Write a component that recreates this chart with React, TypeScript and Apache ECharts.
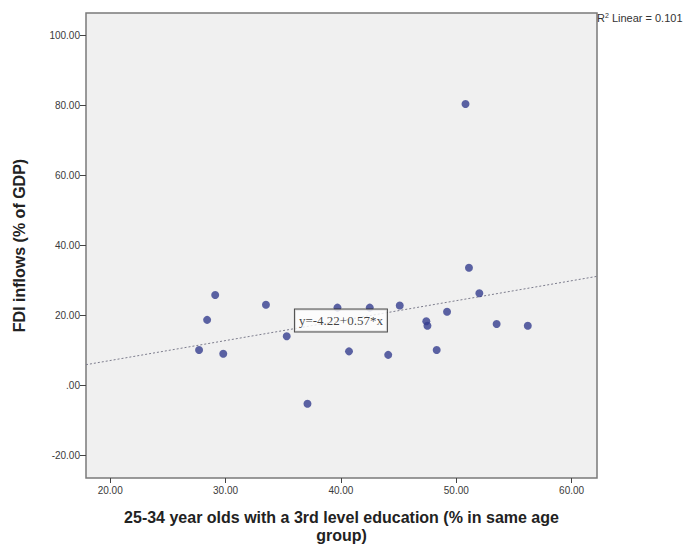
import { useEffect, useRef } from "react";
import * as echarts from "echarts";

// 25-34 year olds with tertiary education (%) vs FDI inflows (% of GDP)
const education = [27.7, 28.4, 29.1, 29.8, 33.5, 35.3, 37.1, 39.7, 40.7, 42.5, 44.1, 45.1, 47.4, 47.5, 48.3, 49.2, 50.8, 51.1, 52.0, 53.5, 56.2];
const fdiInflows = [10.2, 18.8, 25.9, 9.1, 23.1, 14.1, -5.2, 22.3, 9.8, 22.3, 8.8, 22.9, 18.4, 17.1, 10.2, 21.1, 80.5, 33.7, 26.4, 17.6, 17.1];

// Linear fit reported with the chart
const fitIntercept = -4.22;
const fitSlope = 0.57;
const rSquared = 0.101;
const equationAtX = 40;

const xTicks = [20, 30, 40, 50, 60];
const yTicks = [-20, 0, 20, 40, 60, 80, 100];
const xRange = [17.9, 62.2];
const yRange = [-26.4, 106.5];

const fmt = (v: number) => (v === 0 ? ".00" : v.toFixed(2));
const fit = (x: number) => fitIntercept + fitSlope * x;

export default function App() {
  const ref = useRef<HTMLDivElement>(null);

  useEffect(() => {
    document.body.style.margin = "0";
    if (!ref.current) return;
    const chart = echarts.init(ref.current, null, { renderer: "svg" });
    const points = education.map((x, i) => [x, fdiInflows[i]]);
    const tickLabel = { color: "#3a3a3a", fontSize: 10, fontFamily: "Liberation Sans, Arial, sans-serif" };
    const titleFont = { color: "#222", fontSize: 16, fontWeight: "bold" as const, fontFamily: "Liberation Sans, Arial, sans-serif" };

    chart.setOption({
      animation: false,
      backgroundColor: "#ffffff",
      grid: {
        left: 86,
        right: 94,
        top: 13,
        bottom: 66,
        show: true,
        backgroundColor: "#f0f0f0",
        borderColor: "#7a7a7a",
        borderWidth: 1.5,
      },
      xAxis: {
        type: "value",
        min: xRange[0],
        max: xRange[1],
        name: "25-34 year olds with a 3rd level education (% in same age\ngroup)",
        nameLocation: "middle",
        nameGap: 30,
        nameTextStyle: { ...titleFont, lineHeight: 18 },
        axisLine: { show: false, onZero: false },
        splitLine: { show: false },
        axisTick: { show: true, customValues: xTicks, length: 5, lineStyle: { color: "#444" } },
        axisLabel: { ...tickLabel, customValues: xTicks, formatter: fmt, margin: 7 },
      },
      yAxis: {
        type: "value",
        min: yRange[0],
        max: yRange[1],
        name: "FDI inflows (% of GDP)",
        nameLocation: "middle",
        nameGap: 59,
        nameTextStyle: titleFont,
        axisLine: { show: false, onZero: false },
        splitLine: { show: false },
        axisTick: { show: true, customValues: yTicks, length: 6, lineStyle: { color: "#444" } },
        axisLabel: { ...tickLabel, customValues: yTicks, formatter: fmt, margin: 6 },
      },
      series: [
        {
          type: "line",
          data: [
            [xRange[0], fit(xRange[0])],
            [xRange[1], fit(xRange[1])],
          ],
          showSymbol: false,
          symbol: "none",
          lineStyle: { color: "#7c7c8c", width: 1, type: [2, 2] },
          z: 2,
        },
        {
          type: "scatter",
          data: points,
          symbolSize: 8,
          itemStyle: { color: "#343d8e" },
          z: 3,
        },
        {
          type: "scatter",
          data: [[equationAtX, fit(equationAtX)]],
          symbolSize: 0,
          z: 4,
          label: {
            show: true,
            position: "inside",
            formatter: `y=${fitIntercept.toFixed(2)}+${fitSlope.toFixed(2)}*x`,
            fontFamily: "Liberation Serif, Times New Roman, serif",
            fontSize: 13,
            color: "#111",
            backgroundColor: "#ffffff",
            borderColor: "#222",
            borderWidth: 1,
            padding: [5, 4, 4, 4],
          },
        },
      ],
      graphic: [
        {
          type: "text",
          left: 597,
          top: 12,
          style: {
            text: `{r|R}{s|2}{r| Linear = ${rSquared.toFixed(3)}}`,
            rich: {
              r: { fontSize: 11, fill: "#333", fontFamily: "Liberation Sans, Arial, sans-serif", verticalAlign: "bottom" },
              s: { fontSize: 7, fill: "#333", fontFamily: "Liberation Sans, Arial, sans-serif", verticalAlign: "top" },
            },
          },
        },
      ],
    });
    return () => chart.dispose();
  }, []);

  return <div ref={ref} style={{ width: 691, height: 549 }} />;
}
